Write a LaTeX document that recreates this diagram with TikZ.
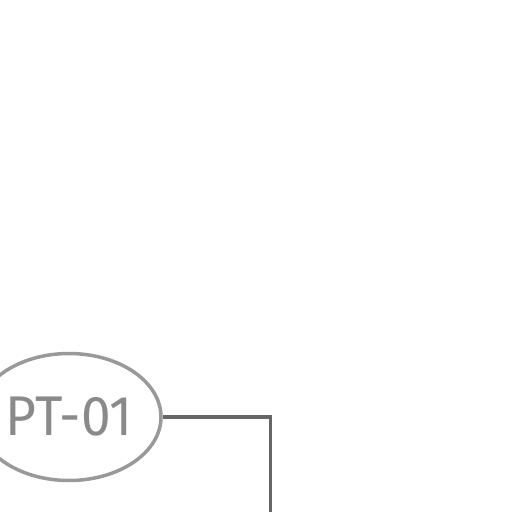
\documentclass[tikz,border=0pt]{standalone}
\usepackage{fontspec}
\setmainfont{Fira Sans}
\usetikzlibrary{shapes.geometric}
\definecolor{ringgray}{HTML}{999999}
\definecolor{textgray}{HTML}{8A8A8A}
\definecolor{linegray}{HTML}{666666}
\tikzset{
  tag/.style={ellipse, draw=ringgray, line width=3.5pt, minimum width=184pt, minimum height=127pt, inner sep=0pt, text=textgray, font=\fontsize{56}{56}\selectfont},
  pipe/.style={draw=linegray, line width=3.5pt}
}
\begin{document}
\begin{tikzpicture}[x=1pt,y=-1pt]
\useasboundingbox (0,0) rectangle (512,512);
\node[tag] (pt) at (69,417) {\scalebox{0.95}[1]{PT-01}};
\coordinate (bend) at (270.5,417);
\coordinate (end) at (270.5,520);
\draw[pipe] (pt.east) -- (bend) -- (end);
\end{tikzpicture}
\end{document}
